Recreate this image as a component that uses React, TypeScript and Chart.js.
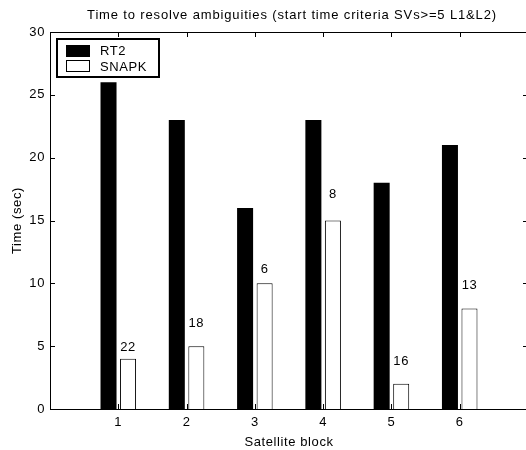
import React, { useEffect, useRef } from "react";
import { Chart, registerables } from "chart.js";

Chart.register(...registerables);

const categories = [1, 2, 3, 4, 5, 6];
const rt2Times = [26, 23, 16, 23, 18, 21];
const snapkTimes = [4, 5, 10, 15, 2, 8];
const barNotes = ["22", "18", "6", "8", "16", "13"];
const barNoteY = [4.9, 6.8, 11.1, 17.1, 3.8, 9.8];
const yTickValues = [0, 5, 10, 15, 20, 25, 30];
const seriesNames = ["RT2", "SNAPK"];
const chartTitle = "Time to resolve ambiguities (start time criteria SVs>=5 L1&L2)";
const xTitle = "Satellite block";
const yTitle = "Time (sec)";

const FONT_FAMILY = "'Liberation Sans', Arial, Helvetica, sans-serif";
const FONT_SIZE = 13;
const SPACING = "0.6px";

const matlabPlugin = {
  id: "matlabDecor",
  beforeDraw(chart: any) {
    const ctx = chart.ctx;
    ctx.save();
    ctx.fillStyle = "#fff";
    ctx.fillRect(0, 0, chart.width, chart.height);
    ctx.restore();
    (ctx as any).letterSpacing = SPACING;
  },
  afterDatasetsDraw(chart: any) {
    const { ctx, chartArea, scales } = chart;
    const { left, right, top, bottom } = chartArea;
    const x = scales.x;
    const y = scales.y;
    ctx.save();
    (ctx as any).letterSpacing = SPACING;
    ctx.strokeStyle = "#000";
    ctx.lineWidth = 1;
    // box
    ctx.beginPath();
    ctx.rect(Math.round(left) + 0.5, Math.round(top) + 0.5, Math.round(right - left), Math.round(bottom - top));
    ctx.stroke();
    // ticks inward
    ctx.beginPath();
    yTickValues.forEach((v) => {
      const py = Math.round(y.getPixelForValue(v)) + 0.5;
      ctx.moveTo(left, py);
      ctx.lineTo(left + 5, py);
      ctx.moveTo(right, py);
      ctx.lineTo(right - 5, py);
    });
    categories.forEach((c) => {
      const px = Math.round(x.getPixelForValue(c)) + 0.5;
      ctx.moveTo(px, bottom);
      ctx.lineTo(px, bottom - 5);
      ctx.moveTo(px, top);
      ctx.lineTo(px, top + 5);
    });
    ctx.stroke();

    ctx.fillStyle = "#000";
    ctx.font = `${FONT_SIZE}px ${FONT_FAMILY}`;
    // title
    ctx.textAlign = "center";
    ctx.textBaseline = "middle";
    (ctx as any).letterSpacing = "0.85px";
    ctx.fillText(chartTitle, (left + right) / 2 + 3, 15);
    (ctx as any).letterSpacing = SPACING;

    // bar notes
    const meta = chart.getDatasetMeta(1);
    barNotes.forEach((t, i) => {
      const bar = meta.data[i];
      ctx.fillText(t, bar.x, y.getPixelForValue(barNoteY[i]));
    });

    // legend
    const lx = 57, ly = 39, lw = 102, lh = 38;
    ctx.fillStyle = "#fff";
    ctx.fillRect(lx, ly, lw, lh);
    ctx.lineWidth = 2;
    ctx.strokeRect(lx, ly, lw, lh);
    ctx.lineWidth = 1;
    ctx.fillStyle = "#000";
    ctx.fillRect(66, 45, 24, 12);
    ctx.strokeRect(66.5, 45.5, 23, 11);
    ctx.fillStyle = "#fff";
    ctx.fillRect(66, 60, 24, 12);
    ctx.strokeRect(66.5, 60.5, 23, 11);
    ctx.fillStyle = "#000";
    ctx.textAlign = "left";
    ctx.fillText(seriesNames[0], 100, 51);
    ctx.fillText(seriesNames[1], 100, 67);
    ctx.restore();
  },
};

export default function App() {
  const canvasRef = useRef<HTMLCanvasElement | null>(null);

  useEffect(() => {
    const canvas = canvasRef.current;
    if (!canvas) return;
    const font = { family: FONT_FAMILY, size: FONT_SIZE };
    const chart = new Chart(canvas, {
      type: "bar",
      data: {
        datasets: [
          {
            label: seriesNames[0],
            data: categories.map((c, i) => ({ x: c, y: rt2Times[i] })),
            backgroundColor: "#000",
            borderColor: "#000",
            borderWidth: 0,
          },
          {
            label: seriesNames[1],
            data: categories.map((c, i) => ({ x: c, y: snapkTimes[i] })),
            backgroundColor: "#fff",
            borderColor: "#000",
            borderWidth: 1,
          },
        ],
      },
      options: {
        animation: false,
        responsive: false,
        maintainAspectRatio: false,
        devicePixelRatio: 1,
        layout: { padding: { top: 32, right: 12, left: 0, bottom: 0 } },
        datasets: { bar: { categoryPercentage: 0.572, barPercentage: 0.82 } } as any,
        plugins: {
          legend: { display: false },
          title: { display: false },
          tooltip: { enabled: false },
        },
        scales: {
          x: {
            type: "linear",
            min: 0,
            max: 7,
            offset: false,
            afterBuildTicks: (s: any) => {
              const t = [];
              for (let v = 0; v <= 7; v++) t.push({ value: v });
              s.ticks = t;
            },
            ticks: {
              stepSize: 1,
              autoSkip: false,
              maxRotation: 0,
              color: "#000",
              font,
              padding: 6,
              callback: (v: any) => (categories.includes(Number(v)) ? String(v) : ""),
            },
            grid: { display: false, drawTicks: false, offset: false },
            border: { display: false },
            title: { display: true, text: xTitle, color: "#000", font, padding: { top: 0, bottom: 0 } },
            afterFit: (s: any) => {
              s.height = 41;
            },
          },
          y: {
            min: 0,
            max: 30,
            afterBuildTicks: (s: any) => {
              s.ticks = yTickValues.map((v) => ({ value: v }));
            },
            ticks: { color: "#000", font, padding: 5, autoSkip: false },
            grid: { display: false, drawTicks: false },
            border: { display: false },
            title: { display: true, text: yTitle, color: "#000", font, padding: { top: 10, bottom: 0 } },
            afterFit: (s: any) => {
              s.width = 50;
            },
          },
        },
      },
      plugins: [matlabPlugin],
    });
    return () => chart.destroy();
  }, []);

  return (
    <div style={{ position: "fixed", left: 0, top: 0, width: 526, height: 450, overflow: "hidden", background: "#fff" }}>
      <canvas ref={canvasRef} width={540} height={450} style={{ display: "block" }} />
    </div>
  );
}
